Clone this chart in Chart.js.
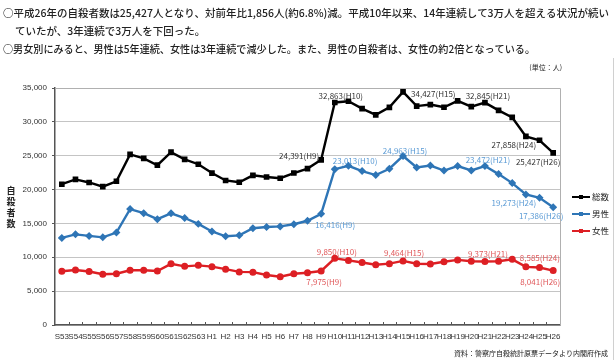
<!DOCTYPE html>
<html>
<head>
<meta charset="utf-8">
<script src="https://cdn.jsdelivr.net/npm/chart.js@4.4.0/dist/chart.umd.min.js"></script>
<style>
  html, body { margin: 0; padding: 0; background: #fff; }
  #wrap { position: relative; width: 615px; height: 360px; }
</style>
</head>
<body>
<div id="wrap"><canvas id="c" width="615" height="360"></canvas></div>
<script>
const years = ["S53","S54","S55","S56","S57","S58","S59","S60","S61","S62","S63",
  "H1","H2","H3","H4","H5","H6","H7","H8","H9","H10","H11","H12","H13","H14","H15",
  "H16","H17","H18","H19","H20","H21","H22","H23","H24","H25","H26"];

const totalValues = [20788,21503,21048,20434,21228,25202,24596,23599,25524,24460,23742,
  22436,21346,21084,22104,21851,21679,22445,23104,24391,32863,33048,31957,31042,32143,34427,
  32325,32552,32155,33093,32249,32845,31690,30651,27858,27283,25427];

const maleValues = [12859,13386,13155,12942,13654,17116,16508,15624,16497,15802,14934,
  13818,13102,13242,14296,14468,14560,14874,15393,16416,23013,23512,22727,22144,23080,24963,
  23272,23540,22813,23478,22831,23472,22283,20955,19273,18787,17386];

const femaleValues = [7929,8117,7893,7492,7574,8086,8088,7975,9027,8658,8808,
  8618,8244,7842,7808,7383,7119,7571,7711,7975,9850,9536,9230,8898,9063,9464,
  9053,9012,9342,9615,9418,9373,9407,9696,8585,8496,8041];

const seriesNames = ["総数", "男性", "女性"];
const seriesColors = ["#000000", "#2e75b6", "#dd1f24"];
const labelColors = ["#333333", "#5b9bd5", "#e0585a"];

const headerLines = [
  "○平成26年の自殺者数は25,427人となり、対前年比1,856人(約6.8%)減。平成10年以来、14年連続して3万人を超える状況が続い",
  "ていたが、3年連続で3万人を下回った。",
  "○男女別にみると、男性は5年連続、女性は3年連続で減少した。また、男性の自殺者は、女性の約2倍となっている。"
];
const unitText = "(単位：人)";
const sourceText = "資料：警察庁自殺統計原票データより内閣府作成";
const yTitle = "自殺者数";

// callouts: [series index, year, align, dx, dy]
const callouts = [
  [0, "H9", "right", -2, -4],
  [0, "H10", "center", 6, -7],
  [0, "H15", "left", 8, 2],
  [0, "H21", "center", 3, -7],
  [0, "H24", "center", -12, 9],
  [0, "H26", "center", -15, 9],
  [1, "H10", "left", -2, -8],
  [1, "H15", "center", 2, -5],
  [1, "H21", "center", 3, -6],
  [1, "H9", "left", -6, 11],
  [1, "H24", "center", -12, 8],
  [1, "H26", "center", -12, 9],
  [2, "H10", "center", 2, -6],
  [2, "H9", "center", 3, 11],
  [2, "H15", "center", 1, -8],
  [2, "H21", "center", 3, -8],
  [2, "H24", "center", 14, -9],
  [2, "H26", "center", -13, 11]
];

const fontJP = "'Noto Sans CJK JP', sans-serif";

const decorPlugin = {
  id: "decor",
  afterDatasetsDraw(chart) {
    const ctx = chart.ctx;
    const area = chart.chartArea;
    const xs = chart.scales.x;
    const ys = chart.scales.y;
    ctx.save();

    // plot frame top + right, outer frame on the right
    ctx.strokeStyle = "#b0b0b0";
    ctx.lineWidth = 1;
    ctx.beginPath();
    ctx.moveTo(area.left, area.top + 0.5);
    ctx.lineTo(area.right + 0.5, area.top + 0.5);
    ctx.lineTo(area.right + 0.5, area.bottom);
    ctx.stroke();
    ctx.strokeStyle = "#d0d0d0";
    ctx.beginPath();
    ctx.moveTo(613.5, 58);
    ctx.lineTo(613.5, 360);
    ctx.stroke();

    // x tick marks, pointing up between categories
    ctx.strokeStyle = "#555";
    ctx.lineWidth = 1;
    const step = xs.getPixelForValue(1) - xs.getPixelForValue(0);
    ctx.beginPath();
    for (let i = 1; i < years.length; i++) {
      const tx = Math.round(xs.getPixelForValue(i) - step / 2) + 0.5;
      ctx.moveTo(tx, area.bottom);
      ctx.lineTo(tx, area.bottom - 3);
    }
    ctx.stroke();

    // callouts
    ctx.font = "8px " + fontJP;
    ctx.textBaseline = "middle";
    callouts.forEach(([si, yr, align, dx, dy]) => {
      const i = years.indexOf(yr);
      const v = chart.data.datasets[si].data[i];
      const px = xs.getPixelForValue(i);
      const py = ys.getPixelForValue(v);
      ctx.fillStyle = labelColors[si];
      ctx.textAlign = align;
      ctx.fillText(v.toLocaleString("en-US") + "(" + yr + ")", px + dx, py + dy);
    });

    // header text
    ctx.fillStyle = "#222";
    ctx.textAlign = "left";
    ctx.font = "500 10.5px " + fontJP;
    ctx.fillText(headerLines[0], 3, 13, 606);
    ctx.fillText(headerLines[1], 15, 31, 236);
    ctx.fillText(headerLines[2], 3, 49, 532);
    ctx.font = "7px " + fontJP;
    ctx.textAlign = "right";
    ctx.fillText(unitText, 562, 67);
    ctx.fillText(sourceText, 608, 353, 158);

    // y title, stacked
    ctx.font = "bold 9px " + fontJP;
    ctx.textAlign = "center";
    for (let k = 0; k < yTitle.length; k++) {
      ctx.fillText(yTitle[k], 11, 191 + k * 11);
    }

    // legend
    ctx.font = "8.5px " + fontJP;
    ctx.textAlign = "left";
    seriesNames.forEach((name, k) => {
      const ly = 197 + k * 17;
      ctx.strokeStyle = seriesColors[k];
      ctx.fillStyle = seriesColors[k];
      ctx.lineWidth = 2;
      ctx.beginPath();
      ctx.moveTo(572, ly);
      ctx.lineTo(590, ly);
      ctx.stroke();
      ctx.fillRect(579, ly - 2, 4, 4);
      ctx.fillStyle = "#222";
      ctx.fillText(name, 592, ly);
    });

    ctx.restore();
  }
};

const makeSet = (k, data, style) => ({
  label: seriesNames[k],
  data: data,
  borderColor: seriesColors[k],
  backgroundColor: seriesColors[k],
  pointBackgroundColor: seriesColors[k],
  pointBorderColor: seriesColors[k],
  borderWidth: 2.4,
  pointStyle: style,
  pointRadius: 2.3,
  tension: 0,
  fill: false
});

new Chart(document.getElementById("c"), {
  type: "line",
  data: {
    labels: years,
    datasets: [
      makeSet(0, totalValues, "rect"),
      makeSet(1, maleValues, "rectRot"),
      makeSet(2, femaleValues, "circle")
    ]
  },
  options: {
    responsive: false,
    animation: false,
    devicePixelRatio: 1,
    layout: { padding: { top: 88, right: 55, left: 0, bottom: 0 } },
    plugins: { legend: { display: false }, tooltip: { enabled: false } },
    scales: {
      x: {
        offset: true,
        grid: { display: true, drawOnChartArea: false, drawTicks: false },
        border: { color: "#555", width: 1.5 },
        ticks: {
          autoSkip: false, maxRotation: 0, minRotation: 0, padding: 7,
          color: "#333", font: { size: 8, family: "'Liberation Sans', Arial, sans-serif" }
        },
        afterFit: (s) => { s.height = 35; }
      },
      y: {
        min: 0,
        max: 35000,
        grid: { color: "#c4c4c4", tickLength: 3, tickColor: "#555" },
        border: { color: "#555", width: 1.5 },
        ticks: {
          stepSize: 5000, padding: 5, color: "#333",
          font: { size: 8, family: "'Liberation Sans', Arial, sans-serif" },
          callback: (v) => v.toLocaleString("en-US")
        },
        afterFit: (s) => { s.width = 55; }
      }
    }
  },
  plugins: [decorPlugin]
});
</script>
</body>
</html>
